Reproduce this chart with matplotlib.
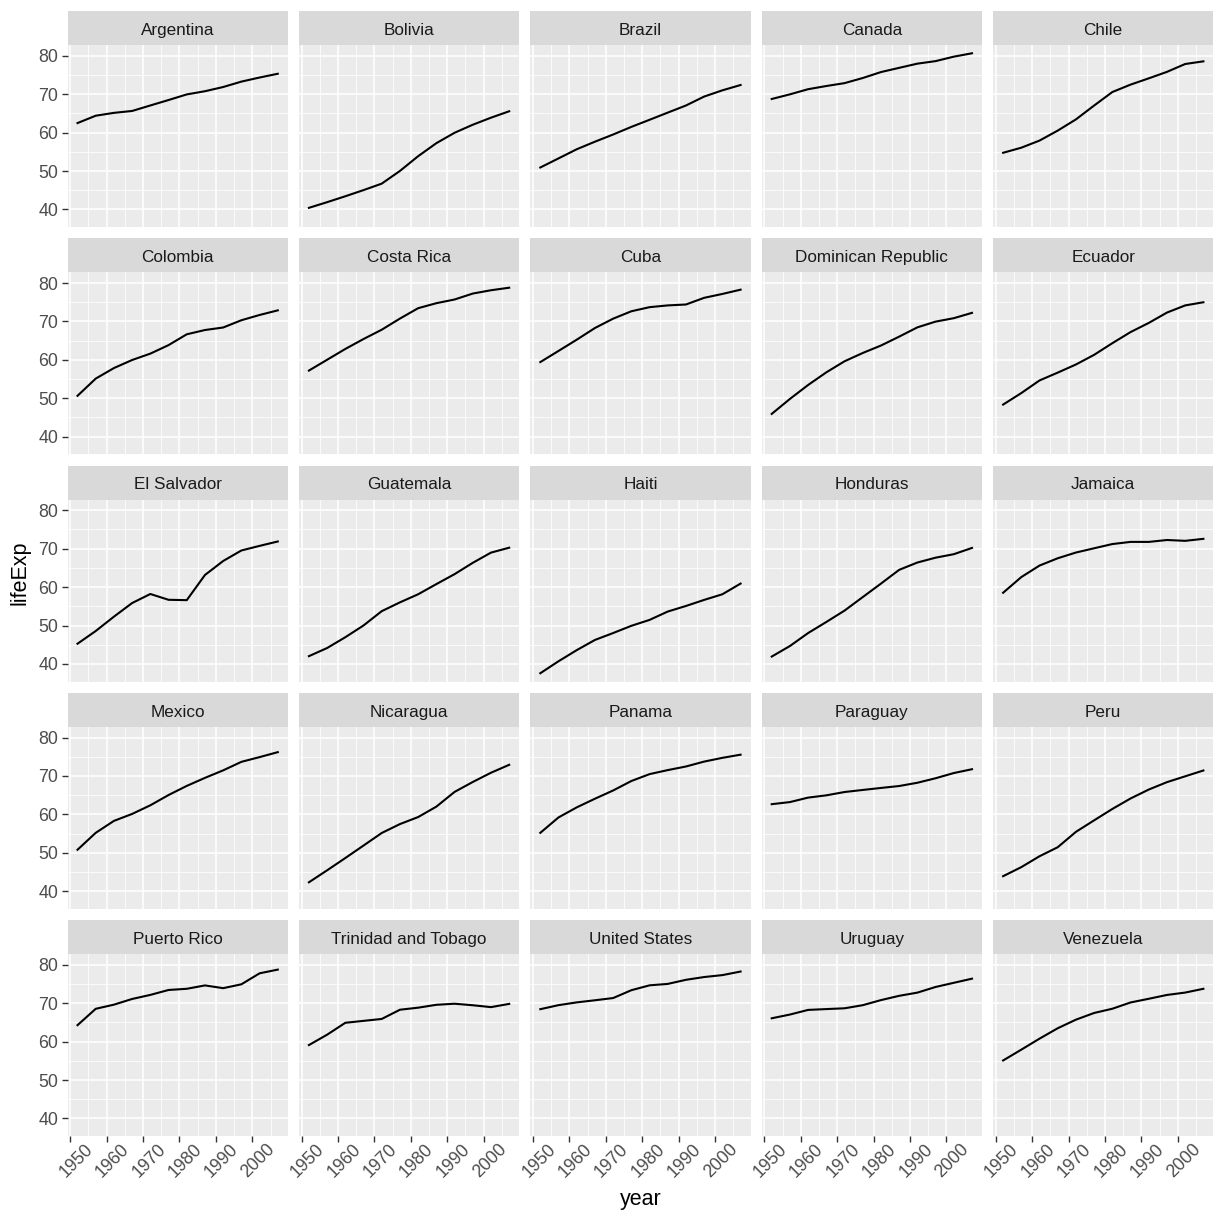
import matplotlib
matplotlib.use("Agg")
import matplotlib.pyplot as plt
from matplotlib.transforms import ScaledTranslation
import numpy as np

years = [1952, 1957, 1962, 1967, 1972, 1977, 1982, 1987, 1992, 1997, 2002, 2007]

countries = ["Argentina", "Bolivia", "Brazil", "Canada", "Chile",
             "Colombia", "Costa Rica", "Cuba", "Dominican Republic", "Ecuador",
             "El Salvador", "Guatemala", "Haiti", "Honduras", "Jamaica",
             "Mexico", "Nicaragua", "Panama", "Paraguay", "Peru",
             "Puerto Rico", "Trinidad and Tobago", "United States", "Uruguay", "Venezuela"]

argentina = [62.485, 64.399, 65.142, 65.634, 67.065, 68.481, 69.942, 70.774, 71.868, 73.275, 74.340, 75.320]
bolivia = [40.414, 41.890, 43.428, 45.032, 46.714, 50.023, 53.859, 57.251, 59.957, 62.050, 63.883, 65.554]
brazil = [50.917, 53.285, 55.665, 57.632, 59.504, 61.489, 63.336, 65.205, 67.057, 69.388, 71.006, 72.390]
canada = [68.75, 69.96, 71.30, 72.13, 72.88, 74.21, 75.76, 76.86, 77.95, 78.61, 79.77, 80.653]
chile = [54.745, 56.074, 57.924, 60.523, 63.441, 67.052, 70.565, 72.492, 74.126, 75.816, 77.860, 78.553]
colombia = [50.643, 55.118, 57.863, 59.963, 61.623, 63.837, 66.653, 67.768, 68.421, 70.313, 71.682, 72.889]
costa_rica = [57.206, 60.026, 62.842, 65.424, 67.849, 70.750, 73.450, 74.752, 75.713, 77.260, 78.123, 78.782]
cuba = [59.421, 62.325, 65.246, 68.290, 70.723, 72.649, 73.717, 74.174, 74.414, 76.151, 77.158, 78.273]
dominican = [45.928, 49.828, 53.459, 56.751, 59.631, 61.788, 63.727, 66.046, 68.457, 69.957, 70.847, 72.235]
ecuador = [48.357, 51.356, 54.640, 56.678, 58.796, 61.310, 64.342, 67.231, 69.613, 72.312, 74.173, 74.994]
el_salvador = [45.262, 48.570, 52.307, 55.855, 58.207, 56.696, 56.604, 63.154, 66.798, 69.535, 70.734, 71.878]
guatemala = [42.023, 44.142, 46.954, 50.016, 53.738, 56.029, 58.137, 60.782, 63.373, 66.322, 68.978, 70.259]
haiti = [37.579, 40.696, 43.590, 46.243, 48.042, 49.923, 51.461, 53.636, 55.089, 56.671, 58.137, 60.916]
honduras = [41.912, 44.665, 48.041, 50.924, 53.884, 57.402, 60.909, 64.492, 66.399, 67.659, 68.565, 70.198]
jamaica = [58.530, 62.610, 65.610, 67.510, 69.000, 70.110, 71.210, 71.770, 71.766, 72.262, 72.047, 72.567]
mexico = [50.789, 55.190, 58.299, 60.110, 62.361, 65.032, 67.405, 69.498, 71.455, 73.670, 74.902, 76.195]
nicaragua = [42.314, 45.432, 48.632, 51.884, 55.151, 57.470, 59.298, 62.008, 65.843, 68.426, 70.836, 72.899]
panama = [55.191, 59.201, 61.817, 64.071, 66.216, 68.681, 70.472, 71.523, 72.462, 73.738, 74.712, 75.537]
paraguay = [62.649, 63.196, 64.361, 64.951, 65.815, 66.353, 66.874, 67.378, 68.225, 69.400, 70.755, 71.752]
peru = [43.902, 46.263, 49.096, 51.445, 55.448, 58.447, 61.406, 64.134, 66.458, 68.386, 69.906, 71.421]
puerto_rico = [64.280, 68.540, 69.620, 71.100, 72.160, 73.440, 73.750, 74.630, 73.911, 74.917, 77.778, 78.746]
trinidad = [59.100, 61.800, 64.900, 65.400, 65.900, 68.300, 68.832, 69.582, 69.862, 69.465, 68.976, 69.819]
united_states = [68.44, 69.49, 70.21, 70.76, 71.34, 73.38, 74.65, 75.02, 76.09, 76.81, 77.31, 78.242]
uruguay = [66.071, 67.044, 68.253, 68.468, 68.673, 69.481, 70.805, 71.918, 72.752, 74.223, 75.307, 76.384]
venezuela = [55.088, 57.907, 60.770, 63.479, 65.712, 67.456, 68.557, 70.190, 71.150, 72.146, 72.766, 73.747]

life_exp = [argentina, bolivia, brazil, canada, chile,
            colombia, costa_rica, cuba, dominican, ecuador,
            el_salvador, guatemala, haiti, honduras, jamaica,
            mexico, nicaragua, panama, paraguay, peru,
            puerto_rico, trinidad, united_states, uruguay, venezuela]

x_ticks = [1950, 1960, 1970, 1980, 1990, 2000]
y_ticks = [40, 50, 60, 70, 80]

plt.rcParams['font.family'] = ['Liberation Sans', 'DejaVu Sans']

W = H = 1224
fig = plt.figure(figsize=(12.24, 12.24), dpi=100)

# layout in pixels (measured from reference)
left0, col_pitch, panel_w = 67.5, 231.4, 220.3
top0, row_pitch, strip_h, panel_h = 11.0, 227.25, 34.0, 182.0

all_vals = np.concatenate([np.array(v) for v in life_exp])
ypad = (all_vals.max() - all_vals.min()) * 0.05
ylim = (all_vals.min() - ypad, all_vals.max() + ypad)
xpad = (years[-1] - years[0]) * 0.05
xlim = (years[0] - xpad, years[-1] + xpad)

shift = ScaledTranslation(6 / 100, 0, fig.dpi_scale_trans)

for i, (name, vals) in enumerate(zip(countries, life_exp)):
    r, c = divmod(i, 5)
    x0 = left0 + c * col_pitch
    ytop = top0 + r * row_pitch
    # strip
    sax = fig.add_axes([x0 / W, 1 - (ytop + strip_h) / H, panel_w / W, strip_h / H])
    sax.set_facecolor('#D9D9D9')
    sax.set_xticks([])
    sax.set_yticks([])
    for s in sax.spines.values():
        s.set_visible(False)
    sax.text(0.5, 0.30, name, ha='center', va='baseline', fontsize=12.3, color='#1A1A1A',
             transform=sax.transAxes)
    # panel
    ax = fig.add_axes([x0 / W, 1 - (ytop + strip_h + panel_h) / H, panel_w / W, panel_h / H])
    ax.set_facecolor('#EBEBEB')
    for s in ax.spines.values():
        s.set_visible(False)
    ax.set_xlim(xlim)
    ax.set_ylim(ylim)
    ax.set_xticks(x_ticks)
    ax.set_yticks(y_ticks)
    ax.set_xticks([1955, 1965, 1975, 1985, 1995, 2005], minor=True)
    ax.set_yticks([45, 55, 65, 75], minor=True)
    ax.grid(which='major', color='white', lw=1.1)
    ax.grid(which='minor', color='white', lw=0.55)
    ax.set_axisbelow(True)
    ax.tick_params(which='minor', length=0)
    ax.tick_params(which='major', length=4.5, width=1.0, color='#333333',
                   labelsize=12.8, labelcolor='#4D4D4D', pad=2)
    ax.plot(years, vals, color='black', lw=1.5)
    if c == 0:
        ax.set_yticklabels([str(v) for v in y_ticks])
    else:
        ax.tick_params(axis='y', length=0, labelleft=False)
    if r == 4:
        ax.tick_params(axis='x', pad=-1)
        ax.set_xticklabels([str(v) for v in x_ticks], rotation=45, ha='center', va='top')
        for lab in ax.get_xticklabels():
            lab.set_transform(lab.get_transform() + shift)
    else:
        ax.tick_params(axis='x', length=0, labelbottom=False)

fig.text(20 / W, 1 - 573 / H, 'lifeExp', rotation=90, ha='center', va='center',
         fontsize=15.5, color='black')
fig.text(640.5 / W, 1 - 1200 / H, 'year', ha='center', va='center', fontsize=15.5, color='black')

fig.savefig('out.png', dpi=100, facecolor='white')
